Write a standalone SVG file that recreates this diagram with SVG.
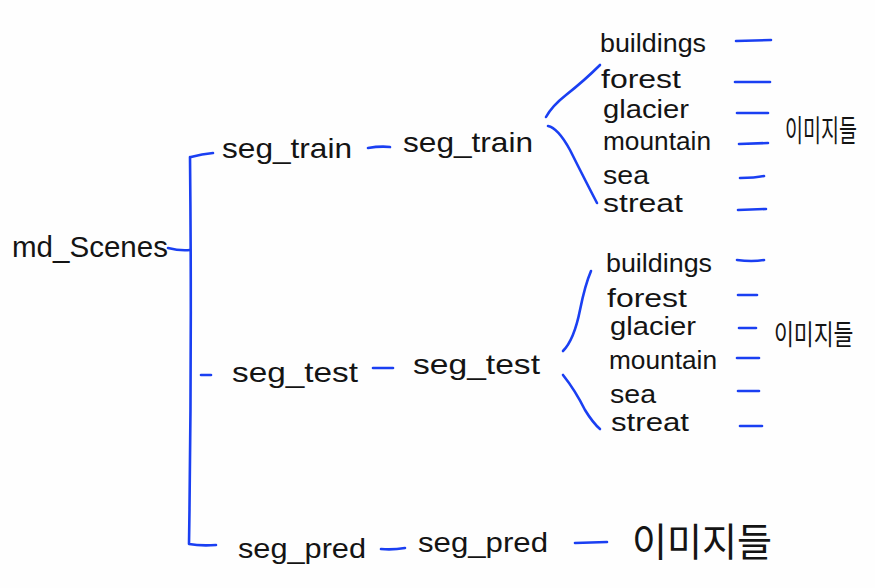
<svg xmlns="http://www.w3.org/2000/svg" width="875" height="588" viewBox="0 0 875 588">
<style>
text{font-family:"Liberation Sans","Noto Sans CJK KR",sans-serif;fill:#141414}
.l{font-size:30px}
.m{font-size:28px}
.s{font-size:25px}
.k{font-size:20px}
.kb{font-size:34px}
.c path{fill:none;stroke:#1a3ff2;stroke-width:2.6;stroke-linecap:round;stroke-linejoin:round}
</style>
<rect width="875" height="588" fill="#fefefe"/>
<g class="c" id="connectors">
<path d="M168,248 Q180,251 190,250"/>
<path d="M190,157 Q192,350 189,544 Q200,546 216,545"/>
<path d="M191,157 Q202,154 213,153"/>
<path d="M201,375 L211,375"/>
<path d="M368,148 Q380,146 390,147"/>
<path d="M373,368 L393,368"/>
<path d="M381,549 Q393,550 405,548"/>
<path d="M546,117 Q552,106 566,95 Q585,80 600,65"/>
<path d="M548,126 Q558,128 570,150 Q585,180 597,203"/>
<path d="M563,351 Q574,340 580,310 Q585,285 591,271"/>
<path d="M563,375 Q575,390 585,410 Q593,423 600,429"/>
<path d="M736,41 L771,40"/>
<path d="M735,82 L770,82"/>
<path d="M737,113 L768,113"/>
<path d="M739,144 L768,143"/>
<path d="M740,178 Q755,178 764,176"/>
<path d="M738,210 L766,209"/>
<path d="M737,260 Q752,262 764,260"/>
<path d="M738,295 L757,295"/>
<path d="M739,328 L756,328"/>
<path d="M737,358 L759,358"/>
<path d="M738,391 L759,391"/>
<path d="M740,426 L762,426"/>
<path d="M575,543 L607,542"/>
</g>
<g id="md_scenes"><text class="l" x="12" y="257" textLength="156" lengthAdjust="spacingAndGlyphs">md_Scenes</text></g>
<g id="seg_train_1"><text class="m" x="222" y="158" textLength="130" lengthAdjust="spacingAndGlyphs">seg_train</text></g>
<g id="seg_train_2"><text class="m" x="403" y="152" textLength="130" lengthAdjust="spacingAndGlyphs">seg_train</text></g>
<g id="train_classes">
<text class="s" x="600" y="52" textLength="106" lengthAdjust="spacingAndGlyphs">buildings</text>
<text class="s" x="601" y="88" textLength="80" lengthAdjust="spacingAndGlyphs">forest</text>
<text class="s" x="603" y="118" textLength="86" lengthAdjust="spacingAndGlyphs">glacier</text>
<text class="s" x="603" y="150" textLength="108" lengthAdjust="spacingAndGlyphs">mountain</text>
<text class="s" x="603" y="184" textLength="46" lengthAdjust="spacingAndGlyphs">sea</text>
<text class="s" x="603" y="212" textLength="80" lengthAdjust="spacingAndGlyphs">streat</text>
</g>
<g id="train_images"><text class="k" transform="translate(785,141) scale(0.98,1.5)">이미지들</text></g>
<g id="seg_test_1"><text class="m" x="232" y="382" textLength="126" lengthAdjust="spacingAndGlyphs">seg_test</text></g>
<g id="seg_test_2"><text class="m" x="413" y="374" textLength="127" lengthAdjust="spacingAndGlyphs">seg_test</text></g>
<g id="test_classes">
<text class="s" x="606" y="272" textLength="106" lengthAdjust="spacingAndGlyphs">buildings</text>
<text class="s" x="607" y="307" textLength="80" lengthAdjust="spacingAndGlyphs">forest</text>
<text class="s" x="610" y="335" textLength="86" lengthAdjust="spacingAndGlyphs">glacier</text>
<text class="s" x="609" y="369" textLength="108" lengthAdjust="spacingAndGlyphs">mountain</text>
<text class="s" x="610" y="403" textLength="46" lengthAdjust="spacingAndGlyphs">sea</text>
<text class="s" x="611" y="431" textLength="78" lengthAdjust="spacingAndGlyphs">streat</text>
</g>
<g id="test_images"><text class="k" transform="translate(774,345) scale(1.08,1.4)">이미지들</text></g>
<g id="seg_pred_1"><text class="m" x="238" y="558" textLength="128" lengthAdjust="spacingAndGlyphs">seg_pred</text></g>
<g id="seg_pred_2"><text class="m" x="418" y="552" textLength="130" lengthAdjust="spacingAndGlyphs">seg_pred</text></g>
<g id="pred_images"><text class="kb" transform="translate(632,556) scale(1.12,1.15)">이미지들</text></g>
</svg>
